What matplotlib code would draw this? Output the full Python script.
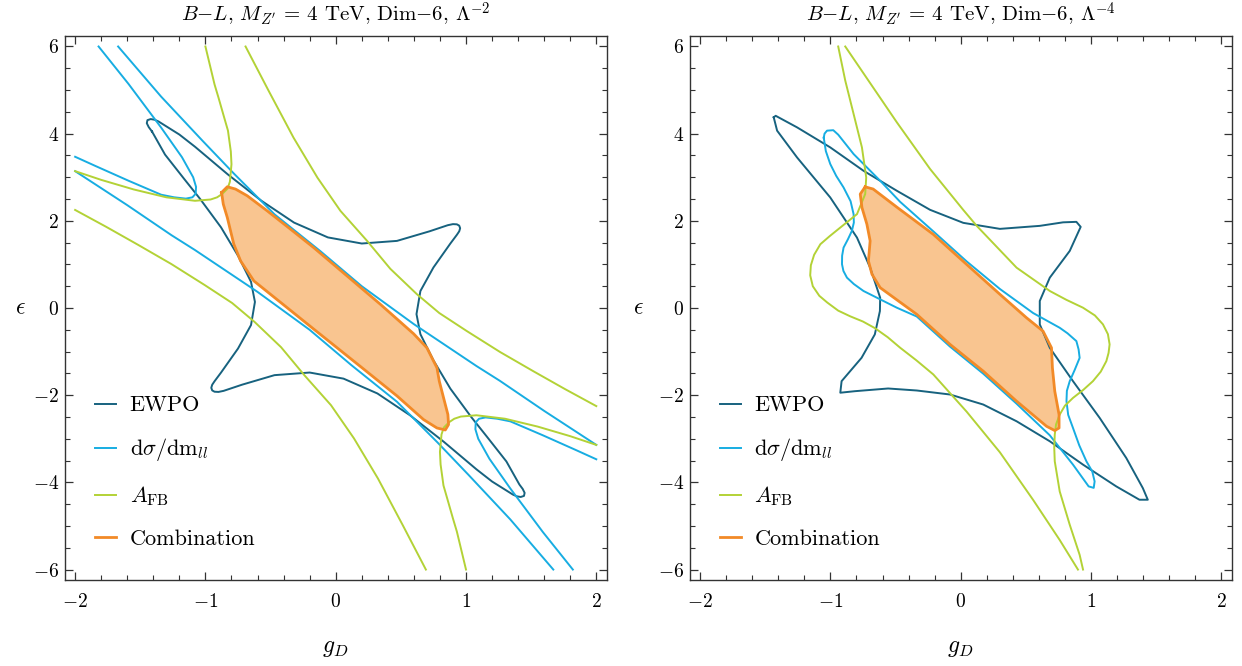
import numpy as np
import matplotlib
matplotlib.use('Agg')
from matplotlib import pyplot as plt
from matplotlib.ticker import MultipleLocator

plt.rcParams['font.family'] = 'cmr10'
plt.rcParams['mathtext.fontset'] = 'cm'
plt.rcParams['axes.formatter.use_mathtext'] = True

# contour points (g_D, epsilon), left panel (Lambda^-2)
ewpo_l = [(-1.41, 4.05), (-1.435, 4.15), (-1.45, 4.24), (-1.445, 4.31), (-1.42, 4.335), (-1.39, 4.32),
          (-1.36, 4.28), (-1.20, 3.98), (-1.08, 3.70),
          (-0.83, 3.07), (-0.57, 2.46), (-0.32, 1.96), (-0.06, 1.62), (0.20, 1.48), (0.47, 1.54),
          (0.72, 1.76), (0.86, 1.90), (0.90, 1.925), (0.93, 1.92), (0.948, 1.89), (0.955, 1.83),
          (0.948, 1.76), (0.93, 1.68), (0.88, 1.48),
          (0.75, 0.93), (0.65, 0.39), (0.62, -0.14), (0.65, -0.60), (0.75, -1.20), (0.88, -1.85),
          (1.04, -2.50), (1.16, -2.95), (1.31, -3.52), (1.41, -4.05), (1.435, -4.15), (1.45, -4.24),
          (1.445, -4.31), (1.42, -4.335), (1.39, -4.32),
          (1.36, -4.28), (1.20, -3.98), (1.08, -3.70), (0.83, -3.07), (0.57, -2.46), (0.32, -1.96),
          (0.06, -1.62), (-0.20, -1.48), (-0.47, -1.54), (-0.72, -1.76), (-0.86, -1.90), (-0.90, -1.925),
          (-0.93, -1.92), (-0.948, -1.89), (-0.955, -1.83), (-0.948, -1.76), (-0.93, -1.68), (-0.88, -1.48),
          (-0.75, -0.93), (-0.65, -0.39), (-0.62, 0.14),
          (-0.65, 0.60), (-0.75, 1.20), (-0.88, 1.85), (-1.04, 2.50), (-1.16, 2.95), (-1.31, 3.52),
          (-1.41, 4.05)]
dsig_l_a = [(-1.82, 6.0), (-1.59, 5.14), (-1.34, 4.14), (-1.18, 3.46), (-1.094, 3.0), (-1.072, 2.78),
            (-1.075, 2.62), (-1.10, 2.54), (-1.15, 2.51), (-1.24, 2.54), (-1.34, 2.60), (-1.59, 2.92),
            (-1.845, 3.26), (-2.0, 3.47)]
dsig_l_b = [(1.82, -6.0), (1.59, -5.14), (1.34, -4.14), (1.18, -3.46), (1.094, -3.0), (1.072, -2.78),
            (1.075, -2.62), (1.10, -2.54), (1.15, -2.51), (1.24, -2.54), (1.34, -2.60), (1.59, -2.92),
            (1.845, -3.26), (2.0, -3.47)]
dsig_l_c = [(-1.67, 6.0), (-1.34, 4.85), (-1.02, 3.83), (-0.78, 3.08), (-0.47, 2.15), (-0.12, 1.31),
            (0.20, 0.50), (0.60, -0.37), (1.08, -1.33), (1.26, -1.67), (1.60, -2.36), (2.0, -3.14)]
dsig_l_d = [(-2.0, 3.14), (-1.60, 2.36), (-1.26, 1.67), (-1.08, 1.33), (-0.60, 0.37), (-0.20, -0.50),
            (0.12, -1.31), (0.47, -2.15), (0.78, -3.08), (1.02, -3.83), (1.34, -4.85), (1.67, -6.0)]
afb_l_a = [(-1.0, 6.0), (-0.93, 5.13), (-0.90, 4.83), (-0.855, 4.36), (-0.827, 4.07), (-0.805, 3.59),
           (-0.80, 3.30), (-0.812, 2.90), (-0.83, 2.74), (-0.87, 2.62), (-0.91, 2.54), (-0.96, 2.49),
           (-1.08, 2.46), (-1.30, 2.54), (-1.55, 2.72), (-1.80, 2.94), (-2.0, 3.14)]
afb_l_b = [(1.0, -6.0), (0.93, -5.13), (0.90, -4.83), (0.855, -4.36), (0.827, -4.07), (0.805, -3.59),
           (0.80, -3.30), (0.812, -2.90), (0.83, -2.74), (0.87, -2.62), (0.91, -2.54), (0.96, -2.49),
           (1.08, -2.46), (1.30, -2.54), (1.55, -2.72), (1.80, -2.94), (2.0, -3.14)]
afb_l_c = [(-0.692, 6.0), (-0.516, 4.99), (-0.324, 3.91), (-0.140, 2.99), (0.036, 2.23), (0.241, 1.54),
           (0.419, 0.90), (0.624, 0.315), (0.795, -0.115), (1.007, -0.53), (1.262, -1.01),
           (1.517, -1.45), (1.760, -1.86), (2.0, -2.25)]
afb_l_d = [(0.692, -6.0), (0.516, -4.99), (0.324, -3.91), (0.140, -2.99), (-0.036, -2.23), (-0.241, -1.54),
           (-0.419, -0.90), (-0.624, -0.315), (-0.795, 0.115), (-1.007, 0.53), (-1.262, 1.01),
           (-1.517, 1.45), (-1.760, 1.86), (-2.0, 2.25)]
comb_l = [(-0.876, 2.651), (-0.863, 2.384), (-0.832, 2.076), (-0.801, 1.694), (-0.782, 1.464),
          (-0.730, 1.080), (-0.628, 0.621), (-0.424, 0.131), (-0.169, -0.483), (0.011, -0.913),
          (0.215, -1.402), (0.470, -2.016), (0.674, -2.559), (0.777, -2.752), (0.841, -2.798),
          (0.866, -2.674), (0.861, -2.444), (0.828, -2.062), (0.795, -1.678), (0.777, -1.372),
          (0.700, -0.913), (0.598, -0.591), (0.343, 0.085), (0.087, 0.736), (-0.169, 1.386),
          (-0.347, 1.809), (-0.526, 2.230), (-0.679, 2.575), (-0.769, 2.729), (-0.832, 2.782),
          (-0.876, 2.651)]

# right panel (Lambda^-4)
ewpo_r = [(-1.435, 4.375), (-1.42, 4.41), (-1.256, 4.145), (-1.001, 3.685), (-0.746, 3.149),
          (-0.490, 2.690), (-0.235, 2.253), (0.020, 1.954), (0.301, 1.816), (0.607, 1.885),
          (0.786, 1.966), (0.888, 1.977), (0.921, 1.862), (0.837, 1.310), (0.684, 0.697),
          (0.607, 0.161), (0.607, -0.375), (0.684, -0.913), (0.862, -1.678), (1.067, -2.522),
          (1.271, -3.441), (1.398, -4.131), (1.436, -4.398), (1.372, -4.398), (1.194, -4.092),
          (0.939, -3.593), (0.684, -3.057), (0.429, -2.598), (0.173, -2.214), (-0.082, -1.984),
          (-0.337, -1.892), (-0.557, -1.846), (-0.812, -1.908), (-0.924, -1.943), (-0.914, -1.678),
          (-0.761, -1.143), (-0.659, -0.605), (-0.620, -0.069), (-0.618, 0.237), (-0.695, 0.926),
          (-0.796, 1.616), (-1.001, 2.536), (-1.256, 3.455), (-1.409, 4.069), (-1.435, 4.375)]
dsig_r = [(-1.051, 3.908), (-1.045, 4.0), (-1.026, 4.069), (-0.978, 4.080), (-0.940, 3.977),
          (-0.822, 3.533), (-0.618, 2.920), (-0.465, 2.437), (-0.210, 1.759), (0.046, 1.069),
          (0.301, 0.437), (0.556, -0.115), (0.760, -0.453), (0.82, -0.58), (0.888, -0.759),
          (0.905, -0.95), (0.913, -1.143), (0.875, -1.42), (0.837, -1.678), (0.815, -1.90),
          (0.812, -2.138), (0.825, -2.45), (0.862, -2.752), (0.91, -3.15), (0.965, -3.517),
          (1.01, -3.75), (1.028, -3.977), (1.021, -4.126), (0.982, -4.092), (0.862, -3.593),
          (0.684, -2.920), (0.429, -2.195), (0.173, -1.506), (-0.082, -0.885), (-0.337, -0.195),
          (-0.490, 0.007), (-0.746, 0.391), (-0.82, 0.55), (-0.873, 0.697), (-0.90, 0.85),
          (-0.911, 1.005), (-0.91, 1.2), (-0.899, 1.386), (-0.865, 1.58), (-0.835, 1.770),
          (-0.82, 1.96), (-0.822, 2.154), (-0.845, 2.45), (-0.899, 2.766), (-0.955, 3.03),
          (-1.001, 3.303), (-1.035, 3.6), (-1.051, 3.908)]
afb_r_a = [(-0.940, 6.0), (-0.886, 5.218), (-0.822, 4.453), (-0.758, 3.685), (-0.725, 2.995),
           (-0.733, 2.614), (-0.796, 2.154), (-0.924, 1.846), (-1.005, 1.65), (-1.077, 1.464),
           (-1.125, 1.22), (-1.150, 0.98), (-1.155, 0.75), (-1.135, 0.50), (-1.085, 0.28),
           (-1.024, 0.126), (-0.94, -0.06), (-0.848, -0.19), (-0.75, -0.31), (-0.659, -0.46),
           (-0.56, -0.67), (-0.465, -0.91), (-0.34, -1.20), (-0.210, -1.524), (0.046, -2.379),
           (0.301, -3.310), (0.556, -4.402), (0.760, -5.322), (0.900, -6.0)]
afb_r_b = [(-0.886, 6.0), (-0.708, 5.218), (-0.490, 4.26), (-0.235, 3.19), (0.020, 2.25), (0.123, 1.885),
           (0.429, 0.926), (0.684, 0.391), (0.81, 0.19), (0.939, 0.007), (1.03, -0.17), (1.092, -0.375),
           (1.13, -0.60), (1.143, -0.834), (1.135, -1.03), (1.118, -1.218), (1.075, -1.46),
           (1.015, -1.678), (0.94, -1.88), (0.862, -2.062), (0.80, -2.24), (0.760, -2.444),
           (0.732, -2.67), (0.722, -2.903), (0.718, -3.2), (0.722, -3.517), (0.760, -4.207),
           (0.837, -4.972), (0.913, -5.662), (0.939, -6.0)]
comb_r = [(-0.733, 2.78), (-0.672, 2.73), (-0.488, 2.31), (-0.210, 1.69), (0.046, 1.00), (0.301, 0.315),
          (0.505, -0.223), (0.632, -0.53), (0.697, -0.913), (0.704, -1.372), (0.722, -1.908),
          (0.755, -2.444), (0.755, -2.752), (0.722, -2.811), (0.659, -2.713), (0.429, -2.138),
          (0.173, -1.448), (-0.082, -0.834), (-0.337, -0.145), (-0.618, 0.467), (-0.681, 0.775),
          (-0.708, 1.08), (-0.695, 1.54), (-0.720, 1.924), (-0.758, 2.306), (-0.771, 2.614),
          (-0.733, 2.78)]

titles = [r'$B{-}L$, $M_{Z^{\prime}}$ = 4 TeV, Dim$-$6, $\Lambda^{-2}$',
          r'$B{-}L$, $M_{Z^{\prime}}$ = 4 TeV, Dim$-$6, $\Lambda^{-4}$']
labels = ['EWPO', r'$\mathrm{d}\sigma/\mathrm{dm}_{ll}$', r'$A_{\mathrm{FB}}$', 'Combination']

c_ewpo = '#17627f'
c_dsig = '#17ade2'
c_afb = '#b3d236'
c_comb = '#f28a27'
c_fill = '#f9c590'

panels = [
    dict(ewpo=[ewpo_l], dsig=[dsig_l_a, dsig_l_b, dsig_l_c, dsig_l_d],
         afb=[afb_l_a, afb_l_b, afb_l_c, afb_l_d], comb=comb_l),
    dict(ewpo=[ewpo_r], dsig=[dsig_r], afb=[afb_r_a, afb_r_b], comb=comb_r),
]

fig = plt.figure(figsize=(12.42, 6.66), dpi=100)
ax_l = fig.add_axes([0.0521, 0.1291, 0.4364, 0.8168])
ax_r = fig.add_axes([0.5553, 0.1291, 0.4364, 0.8168])
ylab_x = [-0.082, -0.095]

for i, (ax, p) in enumerate(zip([ax_l, ax_r], panels)):
    cx, cy = np.array(p['comb']).T
    ax.fill(cx, cy, color=c_fill, lw=0, zorder=1)
    for j, pts in enumerate(p['ewpo']):
        x, y = np.array(pts).T
        ax.plot(x, y, color=c_ewpo, lw=1.4, zorder=2, label=labels[0] if j == 0 else None)
    for j, pts in enumerate(p['dsig']):
        x, y = np.array(pts).T
        ax.plot(x, y, color=c_dsig, lw=1.4, zorder=3, label=labels[1] if j == 0 else None)
    for j, pts in enumerate(p['afb']):
        x, y = np.array(pts).T
        ax.plot(x, y, color=c_afb, lw=1.4, zorder=3, label=labels[2] if j == 0 else None)
    ax.plot(cx, cy, color=c_comb, lw=2.0, zorder=4, label=labels[3])

    ax.set_xlim(-2.08, 2.08)
    ax.set_ylim(-6.24, 6.24)
    ax.xaxis.set_major_locator(MultipleLocator(1))
    ax.xaxis.set_minor_locator(MultipleLocator(0.2))
    ax.yaxis.set_major_locator(MultipleLocator(2))
    ax.yaxis.set_minor_locator(MultipleLocator(0.5))
    ax.tick_params(which='both', direction='in', top=True, right=True, color='#333333',
                   labelsize=14)
    ax.tick_params(which='major', length=6, width=0.9)
    ax.tick_params(which='minor', length=3.5, width=0.8)
    ax.tick_params(axis='x', pad=9)
    ax.tick_params(axis='y', pad=4)
    for s in ax.spines.values():
        s.set_color('#333333')
        s.set_linewidth(1.0)

    ax.set_xlabel(r'$g_D$', fontsize=17)
    ax.xaxis.set_label_coords(0.5, -0.105)
    ax.set_ylabel(r'$\epsilon$', fontsize=17, rotation=0, va='center')
    ax.yaxis.set_label_coords(ylab_x[i], 0.5)
    ax.text(0.5, 1.04, titles[i], transform=ax.transAxes, ha='center', va='center', fontsize=15)

    ax.legend(loc='lower left', bbox_to_anchor=(0.056, 0.057), frameon=False, fontsize=16,
              handlelength=0.95, handletextpad=0.6, labelspacing=0.95, borderpad=0,
              borderaxespad=0)

fig.savefig('out.png', dpi=100)
